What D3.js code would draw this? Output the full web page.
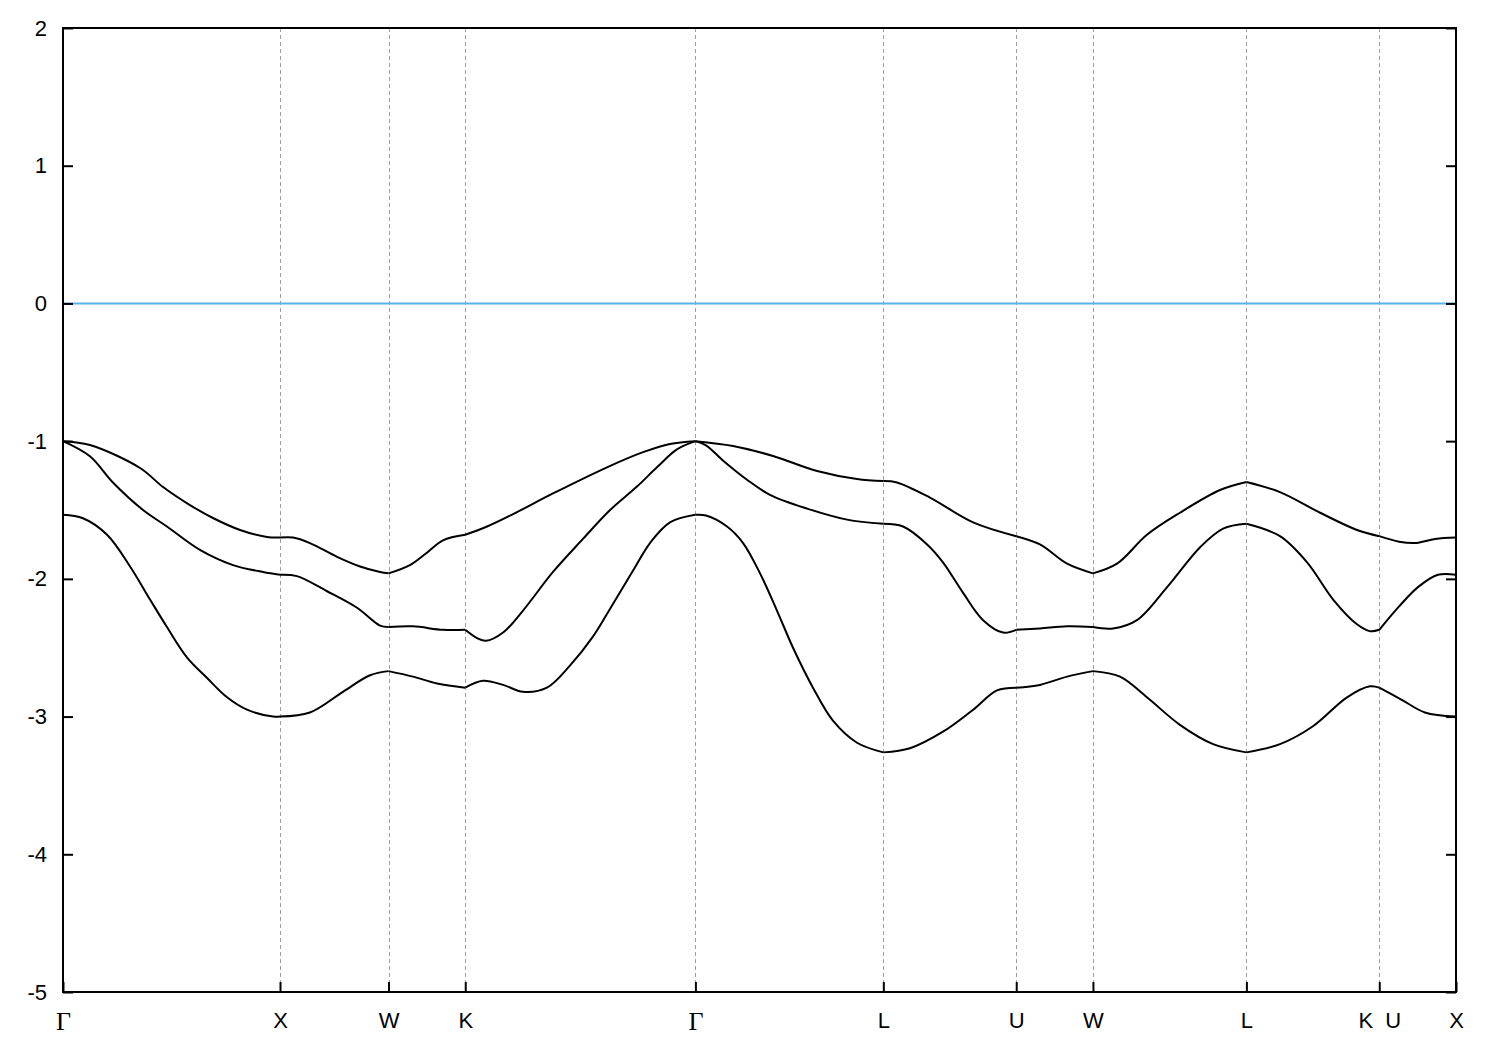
<!DOCTYPE html>
<html><head><meta charset="utf-8">
<script src="https://cdn.jsdelivr.net/npm/d3@7"></script>
<style>body{margin:0;background:#fff}</style>
</head><body>
<svg id="c" width="1500" height="1050"></svg>
<script>
// High-symmetry points (path length coordinate) and labels
const tickK = [0, 1, 1.5, 1.8536, 2.9142, 3.7802, 4.3926, 4.7462, 5.4533, 6.0656, 6.4192];
const tickLabels = ["Γ", "X", "W", "K", "Γ", "L", "U", "W", "L", "K  U", "X"];
const yTicks = [-5, -4, -3, -2, -1, 0, 1, 2];
const fermiLevel = 0;

// Band 1 (lowest)
const band1K = [0, 0.092, 0.203, 0.309, 0.401, 0.479, 0.571, 0.664, 0.756, 0.848, 0.968, 1,
  1.138, 1.290, 1.415, 1.5, 1.613, 1.724, 1.8536, 1.935, 2.028, 2.120, 2.230, 2.336, 2.442, 2.535, 2.627, 2.705, 2.797, 2.9142,
  2.963, 3.060, 3.134, 3.212, 3.290, 3.364, 3.456, 3.548, 3.659, 3.7802,
  3.903, 4.055, 4.194, 4.304, 4.3926, 4.502, 4.627, 4.7462,
  4.871, 4.995, 5.147, 5.300, 5.4533, 5.608, 5.760, 5.917, 6.023, 6.0656,
  6.171, 6.276, 6.4192];
const band1E = [-1.535, -1.56, -1.68, -1.91, -2.15, -2.35, -2.57, -2.72, -2.86, -2.95, -3.00, -3.00,
  -2.97, -2.82, -2.70, -2.67, -2.71, -2.76, -2.79, -2.74, -2.77, -2.82, -2.79, -2.63, -2.42, -2.18, -1.94, -1.74, -1.59, -1.535,
  -1.54, -1.62, -1.74, -1.96, -2.23, -2.50, -2.79, -3.03, -3.19, -3.26,
  -3.23, -3.11, -2.95, -2.81, -2.79, -2.77, -2.71, -2.67,
  -2.71, -2.86, -3.06, -3.20, -3.26, -3.20, -3.07, -2.86, -2.78, -2.79,
  -2.88, -2.97, -3.00];

// Band 2 (middle)
const band2K = [0, 0.124, 0.230, 0.369, 0.479, 0.631, 0.783, 0.922, 1,
  1.078, 1.217, 1.355, 1.461, 1.5, 1.613, 1.751, 1.8536,
  1.908, 1.949, 2.028, 2.120, 2.258, 2.396, 2.521, 2.645, 2.737, 2.829, 2.9142,
  2.963, 3.041, 3.152, 3.258, 3.429, 3.613, 3.7802,
  3.871, 3.982, 4.055, 4.147, 4.240, 4.332, 4.3926, 4.502, 4.627, 4.7462,
  4.839, 4.949, 5.088, 5.240, 5.346, 5.4533, 5.608, 5.733, 5.853, 5.963, 6.023, 6.0656,
  6.157, 6.244, 6.336, 6.4192];
const band2E = [-1.00, -1.11, -1.30, -1.50, -1.62, -1.79, -1.90, -1.95, -1.97,
  -1.98, -2.09, -2.21, -2.34, -2.35, -2.345, -2.37, -2.37,
  -2.43, -2.45, -2.39, -2.23, -1.95, -1.71, -1.50, -1.33, -1.19, -1.06, -1.00,
  -1.03, -1.14, -1.28, -1.39, -1.49, -1.57, -1.60,
  -1.62, -1.75, -1.88, -2.10, -2.30, -2.39, -2.37, -2.36, -2.345, -2.35,
  -2.36, -2.30, -2.06, -1.77, -1.635, -1.60, -1.69, -1.88, -2.15, -2.33, -2.38, -2.37,
  -2.20, -2.06, -1.97, -1.97];

// Band 3 (top)
const band3K = [0, 0.124, 0.355, 0.461, 0.585, 0.691, 0.816, 0.940, 1,
  1.060, 1.138, 1.263, 1.369, 1.461, 1.5, 1.599, 1.677, 1.751, 1.8536,
  1.954, 2.074, 2.258, 2.507, 2.673, 2.797, 2.9142,
  3.088, 3.272, 3.475, 3.659, 3.7802,
  3.843, 3.995, 4.194, 4.3926, 4.502, 4.627, 4.7462,
  4.857, 4.995, 5.147, 5.332, 5.4533, 5.608, 5.793, 5.963, 6.0656,
  6.157, 6.230, 6.323, 6.4192];
const band3E = [-1.00, -1.028, -1.195, -1.333, -1.464, -1.558, -1.645, -1.696, -1.70,
  -1.70, -1.74, -1.84, -1.91, -1.95, -1.96, -1.90, -1.81, -1.72, -1.68,
  -1.62, -1.53, -1.38, -1.19, -1.08, -1.02, -1.00,
  -1.035, -1.108, -1.217, -1.275, -1.29,
  -1.30, -1.41, -1.59, -1.69, -1.75, -1.89, -1.96,
  -1.89, -1.68, -1.52, -1.355, -1.297, -1.37, -1.52, -1.645, -1.69,
  -1.73, -1.74, -1.71, -1.70];

const bands = [[band1K, band1E], [band2K, band2E], [band3K, band3E]];

const L = 63, R = 1456, T = 28, B = 992;
const svg = d3.select("#c");
const x = d3.scaleLinear().domain([0, tickK[tickK.length - 1]]).range([L, R]);
const y = d3.scaleLinear().domain([-5, 2]).range([B, T]);

// dashed vertical lines at high-symmetry points
svg.append("g").selectAll("line").data(tickK.slice(1, -1)).join("line")
  .attr("x1", d => Math.round(x(d)) + 0.5).attr("x2", d => Math.round(x(d)) + 0.5)
  .attr("y1", T).attr("y2", B)
  .attr("stroke", "#a0a0a0").attr("stroke-width", 1).attr("stroke-dasharray", "4,3");

// Fermi level
svg.append("line").attr("x1", L).attr("x2", R).attr("y1", y(fermiLevel)).attr("y2", y(fermiLevel))
  .attr("stroke", "#56b4e9").attr("stroke-width", 2);

// bands, drawn piecewise between high-symmetry points
const line = d3.line().x(d => x(d[0])).y(d => y(d[1])).curve(d3.curveCatmullRom.alpha(0.5));
const eps = 1e-6;
bands.forEach(([ks, es]) => {
  const pts = ks.map((k, i) => [k, es[i]]);
  for (let s = 0; s < tickK.length - 1; s++) {
    const seg = pts.filter(p => p[0] >= tickK[s] - eps && p[0] <= tickK[s + 1] + eps);
    svg.append("path").datum(seg).attr("d", line)
      .attr("fill", "none").attr("stroke", "#000").attr("stroke-width", 2)
      .attr("stroke-linejoin", "round");
  }
});

// y axis ticks (left and right, inward)
const yAxisL = d3.axisLeft(y).tickValues(yTicks).tickSize(-10).tickPadding(16).tickFormat(d => String(d));
const gL = svg.append("g").attr("transform", `translate(${L},0)`).call(yAxisL);
gL.select(".domain").remove();
gL.selectAll("line").attr("stroke", "#000").attr("stroke-width", 2);
gL.selectAll("text").attr("font-family", "Liberation Sans, Arial, sans-serif").attr("font-size", 22).attr("fill", "#000");

const yAxisR = d3.axisRight(y).tickValues(yTicks).tickSize(-10).tickFormat("");
const gR = svg.append("g").attr("transform", `translate(${R},0)`).call(yAxisR);
gR.select(".domain").remove();
gR.selectAll("line").attr("stroke", "#000").attr("stroke-width", 2);

// x axis ticks (bottom, inward)
const xAxis = d3.axisBottom(x).tickValues(tickK).tickSize(-10).tickPadding(20).tickFormat((d, i) => tickLabels[i]);
const gX = svg.append("g").attr("transform", `translate(0,${B})`).call(xAxis);
gX.select(".domain").remove();
gX.selectAll("line").attr("stroke", "#000").attr("stroke-width", 2);
gX.selectAll("text")
  .attr("font-family", "Liberation Sans, Arial, sans-serif")
  .attr("font-size", 22).attr("fill", "#000")
  .style("white-space", "pre");
gX.selectAll("text").filter((d, i) => tickLabels[i] === "Γ")
  .attr("font-family", "Liberation Serif, Times New Roman, serif").attr("font-size", 26);

// frame
svg.append("rect").attr("x", L).attr("y", T).attr("width", R - L).attr("height", B - T)
  .attr("fill", "none").attr("stroke", "#000").attr("stroke-width", 2);
</script>
</body></html>
